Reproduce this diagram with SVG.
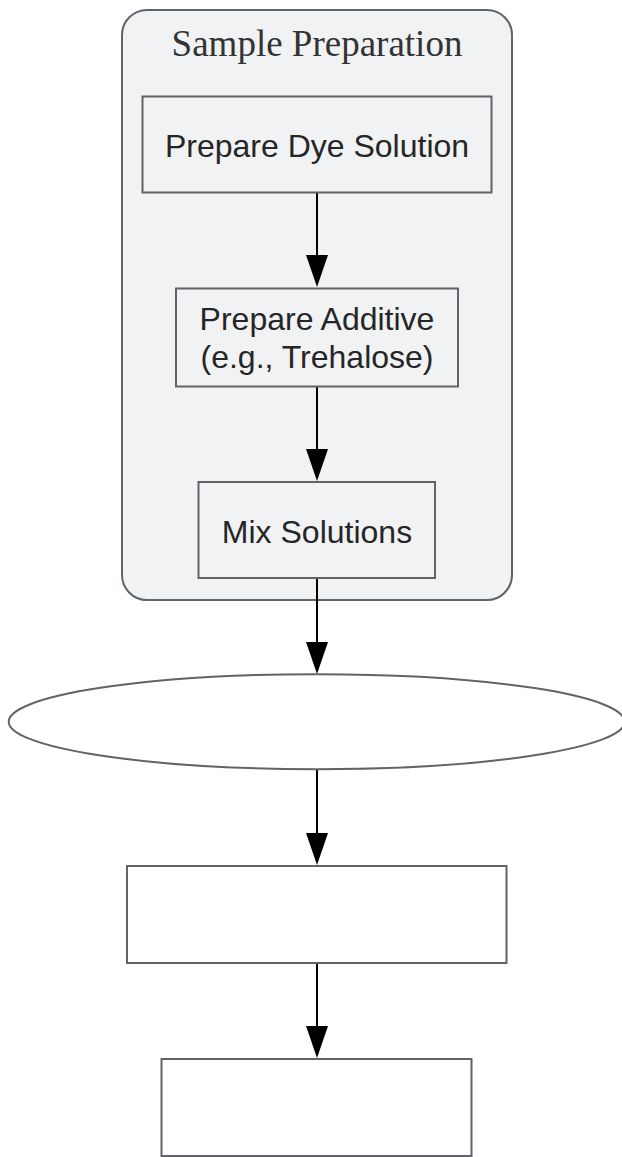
<svg xmlns="http://www.w3.org/2000/svg" width="622" height="1157" viewBox="0 0 622 1157">
<defs>
<style>
.cluster{fill:#f1f2f4;stroke:#606368;stroke-width:2}
.node{fill:#f1f2f4;stroke:#606368;stroke-width:2}
.plain{fill:#ffffff;stroke:#606368;stroke-width:2}
.lbl{font-family:"Liberation Sans",Arial,sans-serif;font-size:32px;fill:#262626;text-anchor:middle}
.title{font-family:"Liberation Serif","Times New Roman",serif;font-size:37px;fill:#333;text-anchor:middle}
.edge{stroke:#000;stroke-width:2;fill:none}
.head{fill:#000}
</style>
</defs>
<rect width="622" height="1157" fill="#ffffff"/>
<g id="cluster-sample-preparation">
<rect class="cluster" x="122" y="10" width="390" height="590" rx="25" ry="25"/>
<text class="title" x="317" y="56">Sample Preparation</text>
</g>
<g id="connectors">
<line class="edge" x1="317" y1="193" x2="317" y2="256"/>
<polygon class="head" points="306,255 328,255 317,287"/>
<line class="edge" x1="317" y1="387" x2="317" y2="450"/>
<polygon class="head" points="306,449 328,449 317,481"/>
<line class="edge" x1="317" y1="578" x2="317" y2="643"/>
<polygon class="head" points="306,642 328,642 317,674"/>
<line class="edge" x1="317" y1="770" x2="317" y2="834"/>
<polygon class="head" points="306,833 328,833 317,865"/>
<line class="edge" x1="317" y1="964" x2="317" y2="1027"/>
<polygon class="head" points="306,1026 328,1026 317,1058"/>
</g>
<g id="node-prepare-dye">
<rect class="node" x="142.5" y="96.5" width="349" height="96"/>
<text class="lbl" x="317" y="156.5">Prepare Dye Solution</text>
</g>
<g id="node-prepare-additive">
<rect class="node" x="176" y="288.5" width="282" height="98"/>
<text class="lbl" x="317" y="330">Prepare Additive</text>
<text class="lbl" x="317" y="367.5">(e.g., Trehalose)</text>
</g>
<g id="node-mix">
<rect class="node" x="198.5" y="482" width="236.5" height="96"/>
<text class="lbl" x="317" y="542.5">Mix Solutions</text>
</g>
<g id="node-ellipse">
<ellipse class="plain" cx="316.7" cy="721.7" rx="308" ry="47.5"/>
</g>
<g id="node-box4">
<rect class="plain" x="127" y="866" width="379.5" height="97"/>
</g>
<g id="node-box5">
<rect class="plain" x="161.5" y="1059" width="310" height="97"/>
</g>
</svg>
